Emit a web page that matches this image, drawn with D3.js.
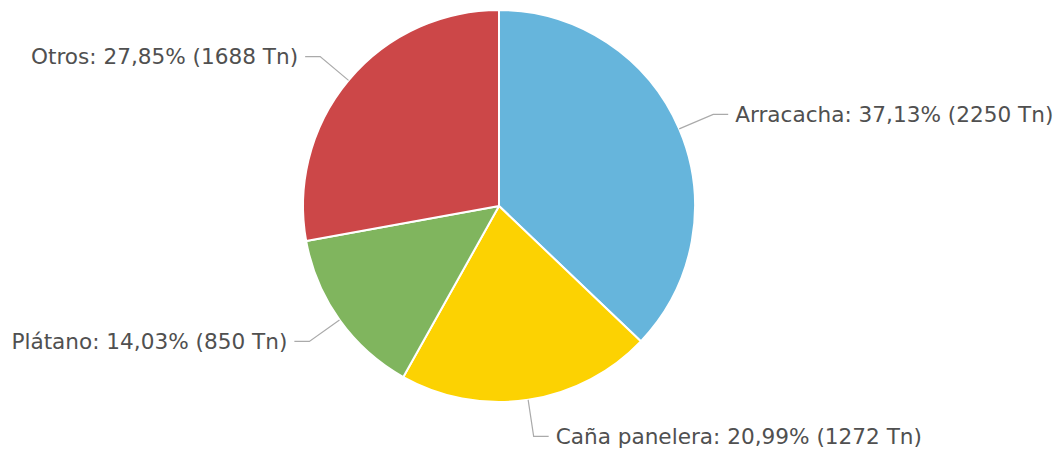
<!DOCTYPE html>
<html><head><meta charset="utf-8">
<script src="https://cdn.jsdelivr.net/npm/d3@7"></script>
<style>
html,body{margin:0;padding:0;background:#fff;}
svg{display:block;}
</style></head>
<body>
<svg id="chart" width="1058" height="452"></svg>
<script>
const categories = ["Arracacha", "Caña panelera", "Plátano", "Otros"];
const values = [2250, 1272, 850, 1688];
const percentLabels = ["37,13%", "20,99%", "14,03%", "27,85%"];
const colors = ["#66b5dc", "#fcd202", "#80b55e", "#cc4748"];

const W = 1058, H = 452;
const cx = 499, cy = 206, R = 196;
const svg = d3.select("#chart");
const g = svg.append("g").attr("transform", `translate(${cx},${cy})`);

const data = categories.map((c, i) => ({name: c, value: values[i], pct: percentLabels[i], color: colors[i]}));
const pie = d3.pie().sort(null).value(d => d.value);
const arcs = pie(data);
const arc = d3.arc().innerRadius(0).outerRadius(R);

g.selectAll("path.slice").data(arcs).enter().append("path")
  .attr("class", "slice")
  .attr("d", arc)
  .attr("fill", d => d.data.color)
  .attr("stroke", "#fff")
  .attr("stroke-width", 2)
  .attr("stroke-linejoin", "round");

const elbowR = 233, hLen = 15, gap = 7;
arcs.forEach(d => {
  const a = (d.startAngle + d.endAngle) / 2;
  const p0 = [R * Math.sin(a), -R * Math.cos(a)];
  const p1 = [elbowR * Math.sin(a), -elbowR * Math.cos(a)];
  const right = Math.sin(a) > 0;
  const p2 = [p1[0] + (right ? hLen : -hLen), p1[1]];
  g.append("polyline")
    .attr("points", [p0, p1, p2].map(p => p.join(",")).join(" "))
    .attr("fill", "none")
    .attr("stroke", "#aaa")
    .attr("stroke-width", 1.2);
  g.append("text")
    .attr("x", p2[0] + (right ? gap : -gap))
    .attr("y", p2[1])
    .attr("dy", "0.35em")
    .attr("text-anchor", right ? "start" : "end")
    .attr("font-family", "DejaVu Sans, Verdana, sans-serif")
    .attr("font-size", 21.6)
    .attr("fill", "#505050")
    .text(`${d.data.name}: ${d.data.pct} (${d3.format("d")(d.data.value)} Tn)`);
});
</script>
</body></html>
